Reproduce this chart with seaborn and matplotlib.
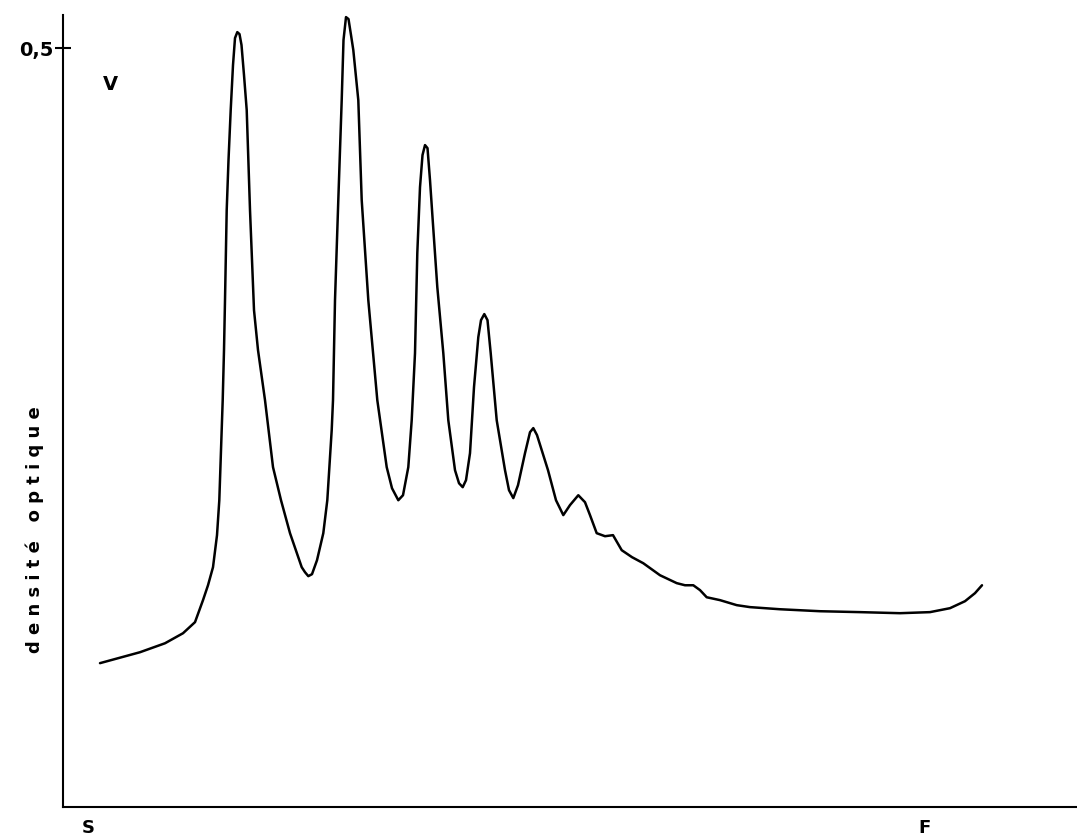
"""
Densitogramme - densite optique le long de la piste (S -> F)
"""

import numpy as np
import pandas as pd
import matplotlib
matplotlib.use("Agg")
import matplotlib.pyplot as plt
import seaborn as sns

# distance de migration (unites arbitraires, origine = axe vertical)
distance = [
    3.70, 7.70, 10.20, 12.00, 13.20, 14.00, 14.50, 15.00, 15.40, 15.63,
    15.80, 15.97, 16.10, 16.20, 16.37, 16.55, 16.77, 17.00, 17.20, 17.43,
    17.65, 17.85, 18.10, 18.37, 18.70, 19.10, 19.50, 20.20, 21.00, 21.80,
    22.70, 23.87, 24.20, 24.53, 24.90, 25.40, 26.03, 26.43, 26.87, 27.00,
    27.20, 27.53, 27.87, 28.05, 28.30, 28.55, 28.80, 29.03, 29.53, 29.87,
    30.53, 31.43, 32.37, 32.90, 33.53, 34.00, 34.53, 34.87, 35.20, 35.43,
    35.70, 35.95, 36.20, 36.45, 36.70, 36.97, 37.43, 38.03, 38.53, 39.20,
    39.60, 39.97, 40.30, 40.70, 41.10, 41.53, 41.80, 42.13, 42.45, 42.77,
    43.37, 44.20, 44.60, 45.03, 45.50, 46.20, 46.70, 47.03, 47.40, 48.50,
    49.30, 50.03, 50.70, 51.53, 52.20, 52.70, 53.37, 54.20, 55.00, 55.87,
    56.90, 58.03, 59.70, 61.37, 62.20, 63.03, 63.70, 64.37, 65.70, 67.37,
    68.70, 71.70, 75.70, 79.70, 83.70, 86.70, 88.70, 90.20, 91.20, 91.90,
]
# densite optique
densite = [
    0.0949, 0.1021, 0.1080, 0.1146, 0.1219, 0.1364, 0.1462, 0.1581, 0.1792, 0.2022,
    0.2352, 0.2681, 0.3011, 0.3340, 0.3933, 0.4262, 0.4592, 0.4888, 0.5066, 0.5105,
    0.5092, 0.5020, 0.4822, 0.4592, 0.3933, 0.3274, 0.3011, 0.2681, 0.2240, 0.2022,
    0.1805, 0.1581, 0.1548, 0.1522, 0.1535, 0.1627, 0.1805, 0.2022, 0.2484, 0.2681,
    0.3340, 0.3999, 0.4657, 0.5053, 0.5204, 0.5191, 0.5086, 0.4987, 0.4657, 0.3999,
    0.3340, 0.2681, 0.2240, 0.2101, 0.2022, 0.2055, 0.2240, 0.2549, 0.2991, 0.3650,
    0.4084, 0.4295, 0.4361, 0.4341, 0.4130, 0.3867, 0.3426, 0.2991, 0.2549, 0.2220,
    0.2134, 0.2108, 0.2154, 0.2332, 0.2767, 0.3096, 0.3208, 0.3248, 0.3208, 0.2991,
    0.2549, 0.2220, 0.2088, 0.2036, 0.2121, 0.2332, 0.2470, 0.2497, 0.2451, 0.2220,
    0.2022, 0.1924, 0.1990, 0.2055, 0.2009, 0.1924, 0.1805, 0.1785, 0.1792, 0.1693,
    0.1647, 0.1607, 0.1528, 0.1476, 0.1462, 0.1462, 0.1430, 0.1383, 0.1364, 0.1331,
    0.1318, 0.1304, 0.1291, 0.1285, 0.1278, 0.1285, 0.1311, 0.1357, 0.1410, 0.1462,
]

y_ticks = [0.5]
y_tick_labels = ["0,5"]

sns.set_theme(style="white")
plt.rcParams["font.family"] = ["DejaVu Sans"]
plt.rcParams["text.color"] = "black"
plt.rcParams["ytick.color"] = "black"
plt.rcParams["ytick.labelcolor"] = "black"

df = pd.DataFrame({"distance": distance, "densite": densite})

fig = plt.figure(figsize=(10.77, 8.4), dpi=100)
ax = fig.add_axes([0.0585, 0.039, 0.9415, 0.943])

sns.lineplot(data=df, x="distance", y="densite", estimator=None, sort=False,
             color="black", linewidth=1.8, ax=ax)
ax.lines[0].set_solid_joinstyle("round")

ax.set_xlim(0, 101.4)
ax.set_ylim(0, 0.5217)

sns.despine(ax=ax, top=True, right=True)
for side in ["left", "bottom"]:
    ax.spines[side].set_color("black")
    ax.spines[side].set_linewidth(1.5)

ax.set_xticks([])
ax.set_yticks(y_ticks)
ax.set_yticklabels(y_tick_labels, fontsize=14, fontweight="bold")
ax.tick_params(axis="y", left=True, direction="inout", length=12, width=1.5,
               color="black", labelcolor="black", pad=1)
ax.set_xlabel("")
ax.set_ylabel("")

# annotations
fig.text(110 / 1077, 1 - 85 / 840, "V", fontsize=14, fontweight="bold",
         ha="center", va="center", color="black")
fig.text(35 / 1077, 1 - 530 / 840, "d e n s i t é   o p t i q u e", fontsize=13,
         fontweight="bold", rotation=90, ha="center", va="center", color="black")
fig.text(88 / 1077, 1 - 828 / 840, "S", fontsize=13, fontweight="bold",
         ha="center", va="center", color="black")
fig.text(925 / 1077, 1 - 828 / 840, "F", fontsize=13, fontweight="bold",
         ha="center", va="center", color="black")

fig.savefig("out.png", dpi=100)
